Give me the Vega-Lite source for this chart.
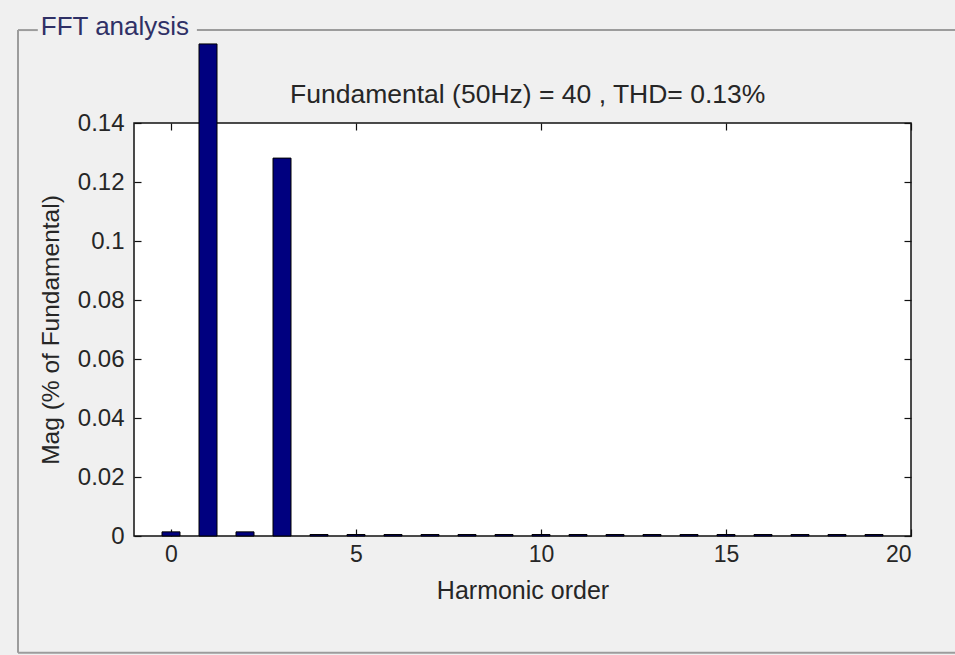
{
  "$schema": "https://vega.github.io/schema/vega-lite/v6.json",
  "width": 777,
  "height": 413,
  "autosize": {"type": "none"},
  "padding": {"left": 134, "top": 123, "right": 44, "bottom": 119},
  "background": "#f0f0f0",
  "config": {
    "font": "Liberation Sans",
    "view": {"fill": "white", "stroke": "#111111", "strokeWidth": 1.5},
    "axis": {
      "domain": false,
      "grid": false,
      "tickColor": "#111111",
      "tickWidth": 1.2,
      "labelFont": "Liberation Sans",
      "labelFontSize": 23,
      "labelColor": "#262626",
      "titleFont": "Liberation Sans",
      "titleFontSize": 24.5,
      "titleFontWeight": "normal",
      "titleColor": "#262626"
    }
  },
  "datasets": {
    "harmonics": [
      {"order": 0, "mag": 0.0014},
      {"order": 1, "mag": 0.1668},
      {"order": 2, "mag": 0.0014},
      {"order": 3, "mag": 0.1281},
      {"order": 4, "mag": 0.0005},
      {"order": 5, "mag": 0.0005},
      {"order": 6, "mag": 0.0005},
      {"order": 7, "mag": 0.0005},
      {"order": 8, "mag": 0.0005},
      {"order": 9, "mag": 0.0005},
      {"order": 10, "mag": 0.0005},
      {"order": 11, "mag": 0.0005},
      {"order": 12, "mag": 0.0005},
      {"order": 13, "mag": 0.0005},
      {"order": 14, "mag": 0.0005},
      {"order": 15, "mag": 0.0005},
      {"order": 16, "mag": 0.0005},
      {"order": 17, "mag": 0.0005},
      {"order": 18, "mag": 0.0005},
      {"order": 19, "mag": 0.0005}
    ],
    "anchor": [{}]
  },
  "layer": [
    {
      "data": {"name": "harmonics"},
      "mark": {"type": "bar", "size": 18, "fill": "#00007f", "stroke": "#000000", "strokeWidth": 1, "clip": false},
      "encoding": {
        "x": {
          "field": "order",
          "type": "quantitative",
          "scale": {"domain": [-1, 20], "nice": false, "zero": false, "padding": 0},
          "axis": {
            "orient": "bottom",
            "title": "Harmonic order",
            "titleFontSize": 25,
            "values": [0, 5, 10, 15, 20],
            "tickSize": -7,
            "labelPadding": 14,
            "titlePadding": 12
          }
        },
        "y": {
          "field": "mag",
          "type": "quantitative",
          "scale": {"domain": [0, 0.14], "nice": false, "padding": 0},
          "axis": {
            "orient": "left",
            "title": "Mag (% of Fundamental)",
            "values": [0, 0.02, 0.04, 0.06, 0.08, 0.1, 0.12, 0.14],
            "format": "~g",
            "labelFontSize": 24,
            "tickSize": -7,
            "labelPadding": 17,
            "titlePadding": 14
          }
        }
      }
    },
    {
      "data": {"name": "harmonics"},
      "mark": {"type": "point", "opacity": 0},
      "encoding": {
        "x": {
          "field": "order",
          "type": "quantitative",
          "axis": {"orient": "top", "title": null, "labels": false, "values": [0, 5, 10, 15, 20], "tickSize": -7}
        },
        "y": {
          "field": "mag",
          "type": "quantitative",
          "axis": {"orient": "right", "title": null, "labels": false, "values": [0, 0.02, 0.04, 0.06, 0.08, 0.1, 0.12, 0.14], "tickSize": -7}
        }
      }
    },
    {
      "data": {"name": "anchor"},
      "mark": {"type": "text", "text": "Fundamental (50Hz) = 40 , THD= 0.13%", "align": "center", "baseline": "middle", "font": "Liberation Sans", "fontSize": 26.5, "color": "#262626", "clip": false},
      "encoding": {
        "x": {"datum": 9.64, "type": "quantitative", "axis": null},
        "y": {"datum": 0.1495, "type": "quantitative", "axis": null}
      }
    },
    {
      "data": {"name": "anchor"},
      "mark": {"type": "rule", "color": "#9c9c9c", "strokeWidth": 2, "clip": false},
      "encoding": {
        "x": {"datum": -4.135, "type": "quantitative", "axis": null},
        "y": {"datum": 0.1715, "type": "quantitative", "axis": null},
        "y2": {"datum": -0.0396}
      }
    },
    {
      "data": {"name": "anchor"},
      "mark": {"type": "rule", "color": "#9c9c9c", "strokeWidth": 2, "clip": false},
      "encoding": {
        "x": {"datum": -4.135, "type": "quantitative", "axis": null},
        "x2": {"datum": 21.4},
        "y": {"datum": -0.0396, "type": "quantitative", "axis": null}
      }
    },
    {
      "data": {"name": "anchor"},
      "mark": {"type": "rule", "color": "#9c9c9c", "strokeWidth": 2, "clip": false},
      "encoding": {
        "x": {"datum": -4.135, "type": "quantitative", "axis": null},
        "x2": {"datum": -3.6},
        "y": {"datum": 0.1715, "type": "quantitative", "axis": null}
      }
    },
    {
      "data": {"name": "anchor"},
      "mark": {"type": "rule", "color": "#9c9c9c", "strokeWidth": 2, "clip": false},
      "encoding": {
        "x": {"datum": 0.7, "type": "quantitative", "axis": null},
        "x2": {"datum": 21.4},
        "y": {"datum": 0.1715, "type": "quantitative", "axis": null}
      }
    },
    {
      "data": {"name": "anchor"},
      "mark": {"type": "text", "text": "FFT analysis", "align": "left", "baseline": "alphabetic", "font": "Liberation Sans", "fontSize": 26, "color": "#2f3066", "clip": false},
      "encoding": {
        "x": {"datum": -3.52, "type": "quantitative", "axis": null},
        "y": {"datum": 0.1698, "type": "quantitative", "axis": null}
      }
    }
  ],
  "resolve": {"axis": {"x": "independent", "y": "independent"}}
}
